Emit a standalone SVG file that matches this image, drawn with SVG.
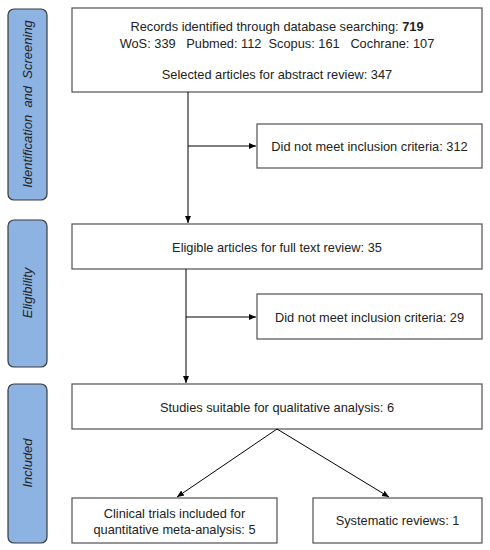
<svg xmlns="http://www.w3.org/2000/svg" width="490" height="550" viewBox="0 0 490 550">
<defs>
<marker id="ah" markerWidth="8" markerHeight="8" refX="7" refY="4" orient="auto" markerUnits="userSpaceOnUse">
<path d="M0,1 L7,4 L0,7 Z" fill="#000"/>
</marker>
<style>
.box{fill:#fff;stroke:#505050;stroke-width:1.2}
.side{fill:#8db3e2;stroke:#3a3a3a;stroke-width:1.2}
.t{font-family:"Liberation Sans",Arial,sans-serif;font-size:12.8px;fill:#222;text-anchor:middle}
.s{font-family:"Liberation Sans",Arial,sans-serif;font-size:13px;font-style:italic;fill:#222;text-anchor:middle}
.c{stroke:#000;stroke-width:1;fill:none}
</style>
</defs>
<rect width="490" height="550" fill="#fff"/>
<g id="side1"><rect class="side" x="8" y="9" width="39" height="191" rx="6"/><text class="s" transform="translate(31.5,104) rotate(-90)" xml:space="preserve">Identification  and  Screening</text></g>
<g id="side2"><rect class="side" x="8" y="220" width="39" height="147" rx="6"/><text class="s" transform="translate(31.5,293) rotate(-90)">Eligibility</text></g>
<g id="side3"><rect class="side" x="8" y="384" width="39" height="159" rx="6"/><text class="s" transform="translate(31.5,463) rotate(-90)">Included</text></g>
<g id="n1"><rect class="box" x="72" y="8" width="410" height="84"/>
<text class="t" x="277" y="31">Records identified through database searching: <tspan font-weight="bold">719</tspan></text>
<text class="t" x="277" y="48" xml:space="preserve">WoS: 339   Pubmed: 112  Scopus: 161   Cochrane: 107</text>
<text class="t" x="277" y="79">Selected articles for abstract review: 347</text></g>
<g id="n2"><rect class="box" x="257" y="124" width="225" height="44"/><text class="t" x="369.5" y="150.5">Did not meet inclusion criteria: 312</text></g>
<g id="n3"><rect class="box" x="72" y="224" width="410" height="45"/><text class="t" x="277" y="251.5">Eligible articles for full text review: 35</text></g>
<g id="n4"><rect class="box" x="257" y="294" width="225" height="45"/><text class="t" x="369.5" y="321.5">Did not meet inclusion criteria: 29</text></g>
<g id="n5"><rect class="box" x="72" y="384" width="410" height="45"/><text class="t" x="277" y="411.5">Studies suitable for qualitative analysis: 6</text></g>
<g id="n6"><rect class="box" x="72" y="498" width="205" height="45"/><text class="t" x="174.5" y="518">Clinical trials included for</text><text class="t" x="174.5" y="534">quantitative meta-analysis: 5</text></g>
<g id="n7"><rect class="box" x="313" y="498" width="169" height="45"/><text class="t" x="397.5" y="525">Systematic reviews: 1</text></g>
<g id="connectors">
<line class="c" x1="188" y1="92" x2="188" y2="223" marker-end="url(#ah)"/>
<line class="c" x1="188" y1="146" x2="256" y2="146" marker-end="url(#ah)"/>
<line class="c" x1="186" y1="269" x2="186" y2="383" marker-end="url(#ah)"/>
<line class="c" x1="186" y1="317" x2="256" y2="317" marker-end="url(#ah)"/>
<line class="c" x1="277" y1="429" x2="177" y2="497" marker-end="url(#ah)"/>
<line class="c" x1="277" y1="429" x2="389" y2="497" marker-end="url(#ah)"/>
</g>
</svg>
